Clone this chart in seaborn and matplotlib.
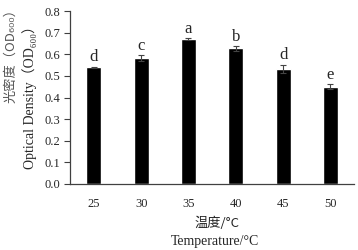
import numpy as np
import pandas as pd
import seaborn as sns
import matplotlib.pyplot as plt

temps = ["25", "30", "35", "40", "45", "50"]
od600 = [0.539, 0.582, 0.671, 0.627, 0.531, 0.450]
sd = [0.003, 0.014, 0.003, 0.010, 0.020, 0.011]
letters = ["d", "c", "a", "b", "d", "e"]
yticks = [0.0, 0.1, 0.2, 0.3, 0.4, 0.5, 0.6, 0.7, 0.8]

df = pd.DataFrame({"temp": temps, "od": od600})

sns.set_style("ticks")
plt.rcParams['font.family'] = ['Liberation Serif', 'Noto Sans CJK SC', 'DejaVu Sans']

fig = plt.figure(figsize=(3.58, 2.5), dpi=100)
ax = fig.add_axes([0.196, 0.264, 0.793, 0.692])

sns.barplot(data=df, x="temp", y="od", color="black", width=0.32,
            errorbar=None, ax=ax, saturation=1)
pos = np.arange(len(temps))
ax.errorbar(pos, od600, yerr=sd, fmt="none", ecolor="#444444",
            elinewidth=0.8, capsize=2.5, capthick=0.8)

for x, v, e, lab in zip(pos, od600, sd, letters):
    ax.annotate(lab, (x, v + e), xytext=(0, 1), textcoords="offset points",
                ha="center", va="bottom", fontsize=12)

ax.set_xlim(-0.5, 5.5)
ax.set_ylim(0, 0.8)
ax.set_yticks(yticks)
ax.set_yticklabels([f"{t:.1f}" for t in yticks])
ax.tick_params(axis="y", length=4, width=0.8, pad=3, labelsize=9, color="#404040")
ax.tick_params(axis="x", length=0, pad=10, labelsize=9)
sns.despine(ax=ax)
for s in ["left", "bottom"]:
    ax.spines[s].set_color("#404040")
    ax.spines[s].set_linewidth(0.9)
ax.set_xlabel("")
ax.set_ylabel("")

# axis titles (Chinese + English)
fig.text(0.605, 1 - 223 / 250, "温度/°C", ha="center", va="center", fontsize=9.5,
         family=['Noto Sans CJK SC', 'Liberation Serif'], color="#222222")
fig.text(0.6, 1 - 242 / 250, "Temperature/°C", ha="center", va="center", fontsize=10)
fig.text(11 / 358, 1 - 53 / 250, "光密度（OD₆₀₀）", ha="center", va="center",
         rotation=90, fontsize=9.5, family=['Noto Sans CJK SC', 'DejaVu Sans'],
         color="#555555")
fig.text(30 / 358, 1 - 94 / 250, "Optical Density（OD₆₀₀）", ha="center", va="center",
         rotation=90, fontsize=10, family=['Liberation Serif', 'Noto Sans CJK SC', 'DejaVu Sans'])

fig.savefig("out.png", dpi=100)
